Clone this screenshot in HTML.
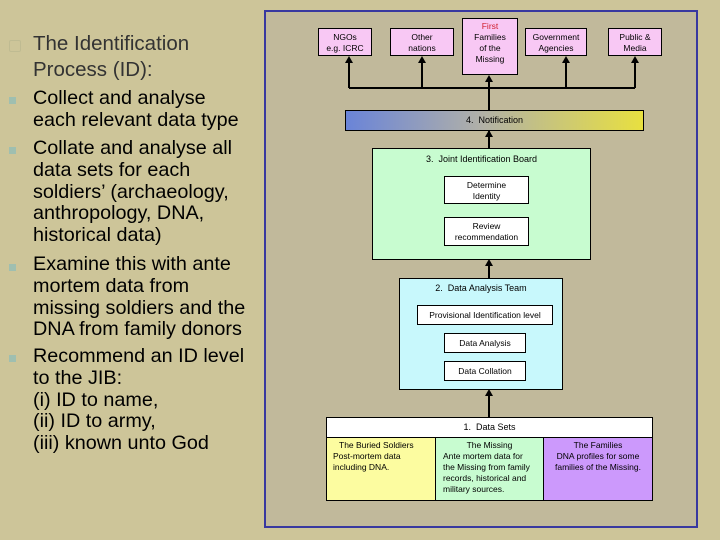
<!DOCTYPE html><html><head><style>
body{margin:0;width:720px;height:540px;background:#cdc599;font-family:"Liberation Sans",sans-serif;position:relative;overflow:hidden}
.a{position:absolute}
.l{position:absolute;left:33px;font-size:19.8px;line-height:21.8px;color:#000}
.b{position:absolute;left:9px;width:7px;height:7px;background:#9fbfb0}
.bx{position:absolute;border:1px solid #000;box-sizing:border-box;font-size:8.5px;text-align:center;color:#000;line-height:11px}
.p{background:#f8c8f4}
.w{background:#fff}
</style></head><body>
<div class="a" style="left:9px;top:40px;width:10px;height:10px;border:1px solid #bfbb92;border-radius:2px"></div>
<div class="l" style="top:31px;color:#333;font-size:20.5px;line-height:26px">The Identification<br>Process (ID):</div>
<div class="b" style="top:97px"></div><div class="b" style="top:147px"></div><div class="b" style="top:264px"></div><div class="b" style="top:355px"></div>
<div class="l" style="top:88px">Collect and analyse<br>each relevant data type</div>
<div class="l" style="top:138px">Collate and analyse all<br>data sets for each<br>soldiers’ (archaeology,<br>anthropology, DNA,<br>historical data)</div>
<div class="l" style="top:254px">Examine this with ante<br>mortem data from<br>missing soldiers and the<br>DNA from family donors</div>
<div class="l" style="top:346px">Recommend an ID level<br>to the JIB:<br>(i) ID to name,<br>(ii) ID to army,<br>(iii) known unto God</div>

<div class="a" style="left:264px;top:10px;width:434px;height:518px;box-sizing:border-box;border:2px solid #3838a0;background:#c1b99b"></div>
<svg class="a" style="left:0;top:0" width="720" height="540">
<g stroke="#000" stroke-width="2" fill="none">
<line x1="349" y1="88" x2="635" y2="88"/>
<line x1="349" y1="88" x2="349" y2="62"/><line x1="422" y1="88" x2="422" y2="62"/>
<line x1="566" y1="88" x2="566" y2="62"/><line x1="635" y1="88" x2="635" y2="62"/>
<line x1="489" y1="110" x2="489" y2="80"/>
<line x1="489" y1="148" x2="489" y2="130"/>
<line x1="489" y1="278" x2="489" y2="264"/>
<line x1="489" y1="417" x2="489" y2="393"/>
</g>
<g fill="#000">
<polygon points="349,56 345,63 353,63"/><polygon points="422,56 418,63 426,63"/>
<polygon points="566,56 562,63 570,63"/><polygon points="635,56 631,63 639,63"/>
<polygon points="489,75 485,82 493,82"/><polygon points="489,130 485,137 493,137"/>
<polygon points="489,259 485,266 493,266"/><polygon points="489,389 485,396 493,396"/>
</g></svg>
<div class="bx p" style="left:318px;top:28px;width:54px;height:28px;padding-top:3px">NGOs<br>e.g. ICRC</div>
<div class="bx p" style="left:390px;top:28px;width:64px;height:28px;padding-top:3px">Other<br>nations</div>
<div class="bx p" style="left:462px;top:18px;width:56px;height:57px;padding-top:2px"><span style="color:#d02030">First</span><br>Families<br>of the<br>Missing</div>
<div class="bx p" style="left:525px;top:28px;width:62px;height:28px;padding-top:3px">Government<br>Agencies</div>
<div class="bx p" style="left:608px;top:28px;width:54px;height:28px;padding-top:3px">Public &amp;<br>Media</div>
<div class="bx" style="left:345px;top:110px;width:299px;height:21px;line-height:19px;font-size:9px;background:linear-gradient(90deg,#6a84d8,#b0b0a8 45%,#e8e040)">4.&nbsp; Notification</div>
<div class="bx" style="left:372px;top:148px;width:219px;height:112px;background:#c8fcd0;font-size:9px;padding-top:5px">3.&nbsp; Joint Identification Board</div>
<div class="bx w" style="left:444px;top:176px;width:85px;height:28px;padding-top:3px">Determine<br>Identity</div>
<div class="bx w" style="left:444px;top:217px;width:85px;height:29px;padding-top:3px">Review<br>recommendation</div>
<div class="bx" style="left:399px;top:278px;width:164px;height:112px;background:#c8f8fc;font-size:9px;padding-top:4px">2.&nbsp; Data Analysis Team</div>
<div class="bx w" style="left:417px;top:305px;width:136px;height:20px;line-height:18px">Provisional Identification level</div>
<div class="bx w" style="left:444px;top:333px;width:82px;height:20px;line-height:18px">Data Analysis</div>
<div class="bx w" style="left:444px;top:361px;width:82px;height:20px;line-height:18px">Data Collation</div>
<div class="bx w" style="left:326px;top:417px;width:327px;height:21px;line-height:19px;font-size:9px">1.&nbsp; Data Sets</div>
<div class="bx" style="left:326px;top:437px;width:110px;height:64px;background:#fcfca0;text-align:left;padding:2px 0 0 6px"><div style="text-align:left;padding-left:6px">The Buried Soldiers</div>Post-mortem data<br>including DNA.</div>
<div class="bx" style="left:435px;top:437px;width:109px;height:64px;background:#c8fcd0;text-align:left;padding:2px 0 0 7px"><div style="text-align:center;margin-left:-7px">The Missing</div>Ante mortem data for<br>the Missing from family<br>records, historical and<br>military sources.</div>
<div class="bx" style="left:543px;top:437px;width:110px;height:64px;background:#cc99fc;padding-top:2px">The Families<br>DNA profiles for some<br>families of the Missing.</div>
</body></html>
